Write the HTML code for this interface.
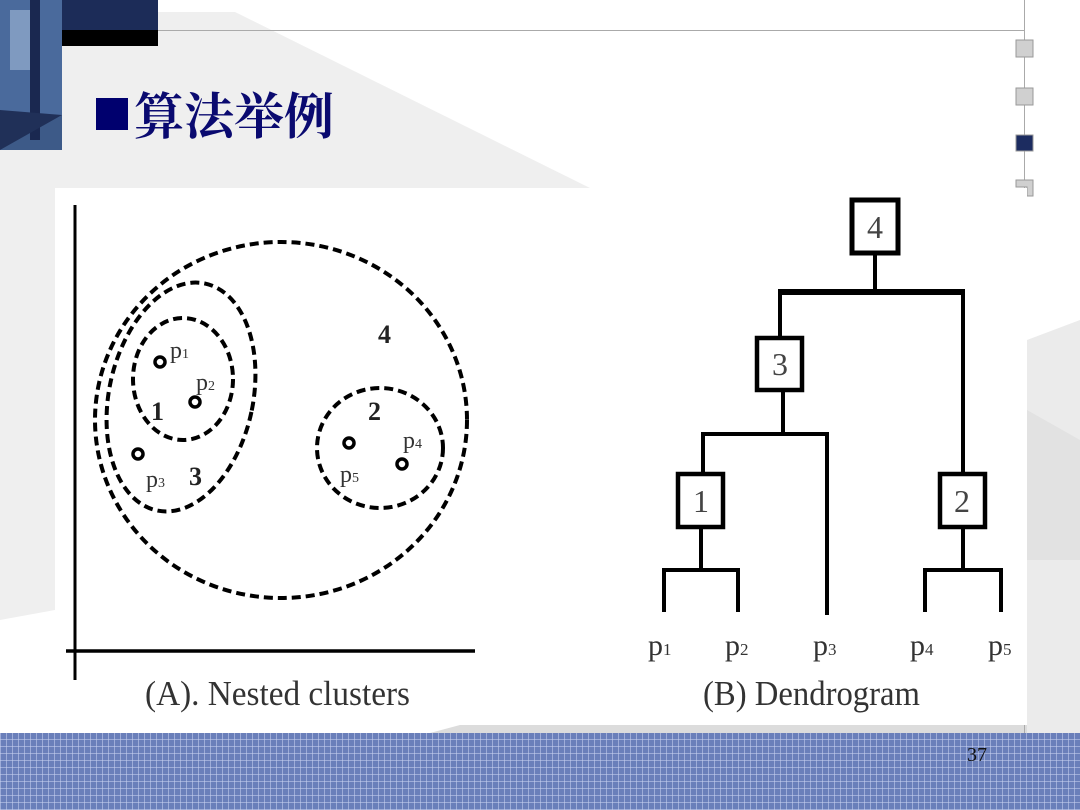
<!DOCTYPE html>
<html><head><meta charset="utf-8"><style>
html,body{margin:0;padding:0;}
body{width:1080px;height:810px;position:relative;overflow:hidden;background:#fff;font-family:"Liberation Serif",serif;}
.band{position:absolute;left:0;top:733px;width:1080px;height:77px;background-color:#6a7fba;
background-image:repeating-linear-gradient(90deg,rgba(200,210,240,.55) 0 1px,transparent 1px 6px),repeating-linear-gradient(0deg,rgba(200,210,240,.55) 0 1px,transparent 1px 7px);}
</style></head><body>
<svg width="1080" height="810" style="position:absolute;left:0;top:0">
<polygon points="60,12 235,12 590,188 1027,188 1027,725 55,725 55,610 0,620 0,150 60,130" fill="#efefef"/>
<polygon points="1027,340 1080,320 1080,733 1027,733" fill="#ebebeb"/>
<polygon points="1027,410 1080,440 1080,560 1027,560" fill="#e2e2e2"/>
<polygon points="430,733 460,725 1027,725 1027,733" fill="#dcdcdc"/>
<rect x="0" y="0" width="62" height="150" fill="#3d5a88"/>
<polygon points="0,0 62,0 62,115 0,150" fill="#4a6a9c"/>
<rect x="10" y="10" width="25" height="60" fill="#7f9ac0"/>
<rect x="30" y="0" width="10" height="140" fill="#1a2850"/>
<polygon points="0,110 62,115 0,150" fill="#203058"/>
<rect x="62" y="0" width="96" height="30" fill="#1c2c58"/>
<rect x="62" y="30" width="96" height="16" fill="#000"/>
<line x1="158" y1="30.5" x2="1025" y2="30.5" stroke="#aaa" stroke-width="1"/>
<line x1="1024.5" y1="0" x2="1024.5" y2="810" stroke="#aaa" stroke-width="1"/>
<rect x="1016" y="40" width="17" height="17" fill="#d0d0d0" stroke="#999"/>
<rect x="1016" y="88" width="17" height="17" fill="#d0d0d0" stroke="#999"/>
<rect x="1016" y="135" width="17" height="16" fill="#1c2c60" stroke="#999"/>
<polygon points="1016,180 1033,180 1033,196 1027,196 1027,187 1016,187" fill="#d0d0d0" stroke="#999"/>
<rect x="55" y="188" width="972" height="537" fill="#fff"/>
<rect x="96" y="98" width="32" height="32" fill="#00006e"/>
<text x="134" y="134" font-family="'Noto Serif CJK SC',serif" font-size="50" font-weight="bold" fill="#0a0a70">算法举例</text>
<line x1="75" y1="205" x2="75" y2="680" stroke="#000" stroke-width="3"/>
<line x1="66" y1="651" x2="475" y2="651" stroke="#000" stroke-width="3.5"/>
<g fill="none" stroke="#000" stroke-width="4" stroke-dasharray="9,5">
<ellipse cx="281" cy="420" rx="186" ry="178"/>
<ellipse cx="181" cy="397" rx="72" ry="116" transform="rotate(12 181 397)"/>
<ellipse cx="183" cy="379" rx="50" ry="61"/>
<ellipse cx="380" cy="448" rx="63" ry="60"/>
</g>
<g fill="none" stroke="#000" stroke-width="3.5">
<circle cx="160" cy="362" r="5"/><circle cx="195" cy="402" r="5"/><circle cx="138" cy="454" r="5"/>
<circle cx="349" cy="443" r="5"/><circle cx="402" cy="464" r="5"/>
</g>
<g font-size="24" fill="#333">
<text x="170" y="358">p<tspan font-size="14">1</tspan></text>
<text x="196" y="390">p<tspan font-size="14">2</tspan></text>
<text x="146" y="487">p<tspan font-size="14">3</tspan></text>
<text x="340" y="482">p<tspan font-size="14">5</tspan></text>
<text x="403" y="448">p<tspan font-size="14">4</tspan></text>
</g>
<g font-size="26" font-weight="bold" fill="#222">
<text x="378" y="343">4</text><text x="368" y="420">2</text>
<text x="151" y="420">1</text><text x="189" y="485">3</text>
</g>
<g stroke="#000" stroke-width="4.5" fill="#fff">
<rect x="852" y="200" width="46" height="53" stroke-width="5"/>
<rect x="757" y="338" width="45" height="52"/>
<rect x="678" y="474" width="45" height="53"/>
<rect x="940" y="474" width="45" height="53"/>
</g>
<g stroke="#000" stroke-width="4" fill="none">
<line x1="875" y1="253" x2="875" y2="292"/>
<line x1="778" y1="292" x2="965" y2="292" stroke-width="6"/>
<line x1="780" y1="292" x2="780" y2="338"/>
<line x1="963" y1="292" x2="963" y2="474"/>
<line x1="783" y1="390" x2="783" y2="434"/>
<polyline points="703,474 703,434 827,434 827,615"/>
<line x1="701" y1="527" x2="701" y2="570"/>
<polyline points="664,612 664,570 738,570 738,612"/>
<line x1="963" y1="527" x2="963" y2="570"/>
<polyline points="925,612 925,570 1001,570 1001,612"/>
</g>
<g font-size="32" fill="#444" text-anchor="middle">
<text x="875" y="238">4</text><text x="780" y="375">3</text>
<text x="701" y="512">1</text><text x="962" y="512">2</text>
</g>
<g font-size="30" fill="#333">
<text x="648" y="655">p<tspan font-size="17">1</tspan></text>
<text x="725" y="655">p<tspan font-size="17">2</tspan></text>
<text x="813" y="655">p<tspan font-size="17">3</tspan></text>
<text x="910" y="655">p<tspan font-size="17">4</tspan></text>
<text x="988" y="655">p<tspan font-size="17">5</tspan></text>
</g>
<text x="145" y="705" font-size="35" fill="#333" textLength="265" lengthAdjust="spacingAndGlyphs">(A). Nested clusters</text>
<text x="703" y="705" font-size="35" fill="#333" textLength="217" lengthAdjust="spacingAndGlyphs">(B) Dendrogram</text>
</svg>
<div class="band"></div>
<div style="position:absolute;left:967px;top:744px;font-size:20px;color:#111;font-family:'Liberation Serif',serif;">37</div>
</body></html>
